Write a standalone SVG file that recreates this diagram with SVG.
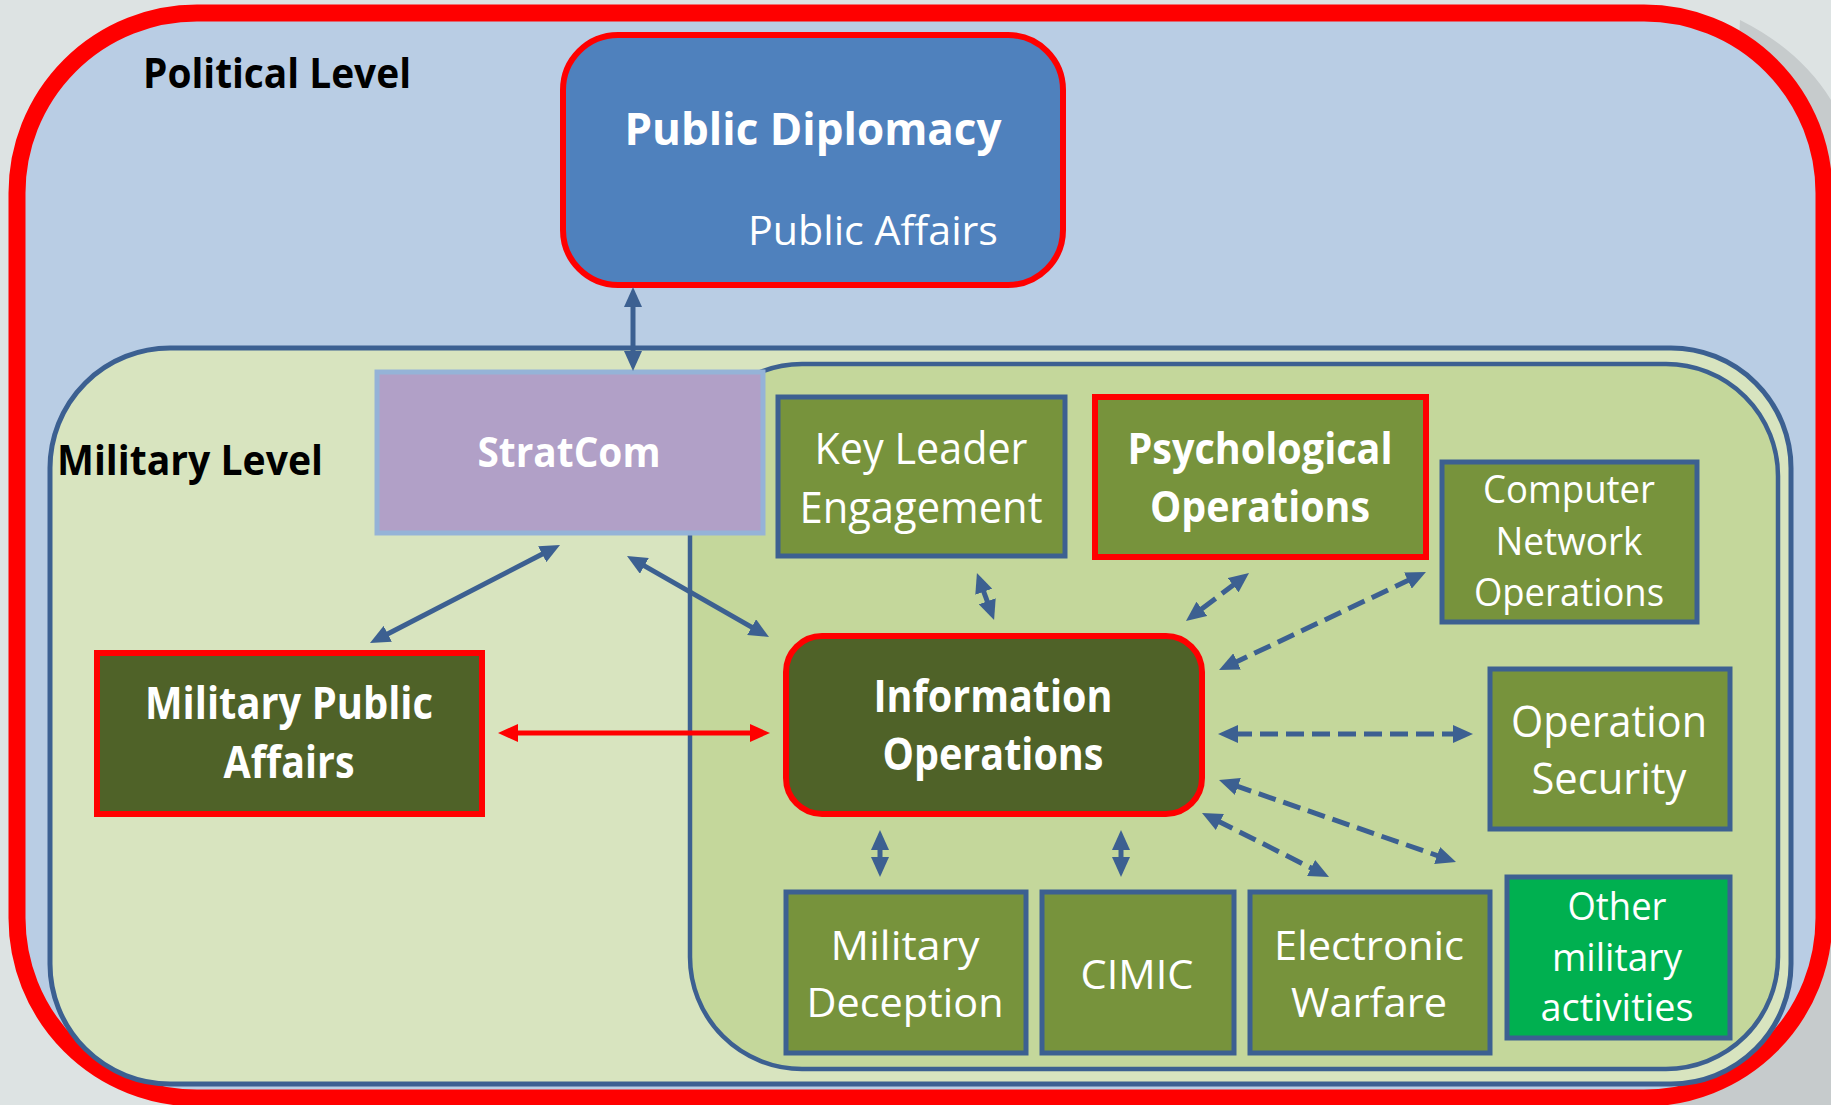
<svg xmlns="http://www.w3.org/2000/svg" width="1831" height="1105" viewBox="0 0 1831 1105">
<defs>
<style>
text{font-family:"Open Sans","Liberation Sans",sans-serif;fill:#fff;text-anchor:middle}
.lbl{fill:#000;font-weight:bold;text-anchor:start}
.b{font-weight:bold}
.box{fill:#77933c;stroke:#3c6091;stroke-width:5}
.redbox{stroke:#ff0000;stroke-width:6}
.conn{stroke:#3c6091;stroke-width:5;fill:none}
.dash{stroke-dasharray:18 8}
</style>
<marker id="ab" viewBox="0 0 20 18" markerWidth="20" markerHeight="18" refX="4" refY="9" orient="auto-start-reverse" markerUnits="userSpaceOnUse">
<path d="M0,0 L20,9 L0,18 z" fill="#3c6091"/>
</marker>
<marker id="ar" viewBox="0 0 20 18" markerWidth="20" markerHeight="18" refX="4" refY="9" orient="auto-start-reverse" markerUnits="userSpaceOnUse">
<path d="M0,0 L20,9 L0,18 z" fill="#ff0000"/>
</marker>
</defs>
<rect x="0" y="0" width="1831" height="1105" fill="#dde3e3"/>
<path d="M1740,20 Q1800,50 1831,100 L1831,1105 L1600,1105 L1700,900 Z" fill="#c6cbcc"/>

<g id="political-level">
<rect x="17" y="13" width="1807" height="1085" rx="180" ry="180" fill="#b9cde4" stroke="#ff0000" stroke-width="17"/>
<text class="lbl" x="143" y="88" font-size="41" textLength="268" lengthAdjust="spacingAndGlyphs">Political Level</text>
</g>

<g id="military-level">
<rect x="50" y="348" width="1741" height="736" rx="120" ry="120" fill="#d8e4bf" stroke="#3c6091" stroke-width="5"/>
<text class="lbl" x="57" y="475" font-size="42" textLength="266" lengthAdjust="spacingAndGlyphs">Military Level</text>
</g>

<g id="io-area">
<rect x="690" y="364" width="1088" height="705" rx="112" ry="112" fill="#c4d79b" stroke="#3c6091" stroke-width="4.5"/>
</g>

<g id="public-diplomacy">
<rect x="563" y="35" width="500" height="250" rx="55" ry="55" fill="#4f81bd" stroke="#ff0000" stroke-width="6"/>
<text class="b" x="813" y="145" font-size="44" textLength="377" lengthAdjust="spacingAndGlyphs">Public Diplomacy</text>
<text x="873" y="245" font-size="41" textLength="250" lengthAdjust="spacingAndGlyphs">Public Affairs</text>
</g>

<g id="stratcom">
<rect x="377" y="372" width="386" height="161" fill="#b1a0c7" stroke="#95b3d7" stroke-width="5"/>
<text class="b" x="569" y="467" font-size="41" textLength="183" lengthAdjust="spacingAndGlyphs">StratCom</text>
</g>

<g id="key-leader-engagement">
<rect class="box" x="778" y="397" width="287" height="159"/>
<text x="921" y="464" font-size="43" textLength="213" lengthAdjust="spacingAndGlyphs">Key Leader</text>
<text x="921" y="523" font-size="43" textLength="243" lengthAdjust="spacingAndGlyphs">Engagement</text>
</g>

<g id="psychological-operations">
<rect class="box redbox" x="1095" y="397" width="331" height="160"/>
<text class="b" x="1260" y="464" font-size="43" textLength="265" lengthAdjust="spacingAndGlyphs">Psychological</text>
<text class="b" x="1260" y="522" font-size="43" textLength="220" lengthAdjust="spacingAndGlyphs">Operations</text>
</g>

<g id="computer-network-operations">
<rect class="box" x="1442" y="462" width="255" height="160"/>
<text x="1569" y="503" font-size="38" textLength="172" lengthAdjust="spacingAndGlyphs">Computer</text>
<text x="1569" y="555" font-size="38" textLength="147" lengthAdjust="spacingAndGlyphs">Network</text>
<text x="1569" y="606" font-size="38" textLength="190" lengthAdjust="spacingAndGlyphs">Operations</text>
</g>

<g id="information-operations">
<rect x="786" y="636" width="416" height="178" rx="36" ry="36" fill="#4f6228" stroke="#ff0000" stroke-width="6"/>
<text class="b" x="993" y="712" font-size="44" textLength="239" lengthAdjust="spacingAndGlyphs">Information</text>
<text class="b" x="993" y="770" font-size="44" textLength="221" lengthAdjust="spacingAndGlyphs">Operations</text>
</g>

<g id="military-public-affairs">
<rect x="97" y="653" width="385" height="161" fill="#4f6228" stroke="#ff0000" stroke-width="6"/>
<text class="b" x="289" y="719" font-size="44" textLength="288" lengthAdjust="spacingAndGlyphs">Military Public</text>
<text class="b" x="289" y="778" font-size="44" textLength="131" lengthAdjust="spacingAndGlyphs">Affairs</text>
</g>

<g id="operation-security">
<rect class="box" x="1490" y="669" width="240" height="160"/>
<text x="1609" y="737" font-size="43" textLength="196" lengthAdjust="spacingAndGlyphs">Operation</text>
<text x="1609" y="794" font-size="43" textLength="155" lengthAdjust="spacingAndGlyphs">Security</text>
</g>

<g id="other-military-activities">
<rect x="1507" y="877" width="223" height="161" fill="#00b050" stroke="#3c6091" stroke-width="5"/>
<text x="1617" y="920" font-size="38" textLength="99" lengthAdjust="spacingAndGlyphs">Other</text>
<text x="1617" y="971" font-size="38" textLength="130" lengthAdjust="spacingAndGlyphs">military</text>
<text x="1617" y="1021" font-size="38" textLength="153" lengthAdjust="spacingAndGlyphs">activities</text>
</g>

<g id="electronic-warfare">
<rect class="box" x="1250" y="892" width="240" height="161"/>
<text x="1369" y="960" font-size="41" textLength="190" lengthAdjust="spacingAndGlyphs">Electronic</text>
<text x="1369" y="1017" font-size="41" textLength="156" lengthAdjust="spacingAndGlyphs">Warfare</text>
</g>

<g id="cimic">
<rect class="box" x="1042" y="892" width="192" height="161"/>
<text x="1137" y="989" font-size="41" textLength="113" lengthAdjust="spacingAndGlyphs">CIMIC</text>
</g>

<g id="military-deception">
<rect class="box" x="786" y="892" width="240" height="161"/>
<text x="905" y="960" font-size="41" textLength="149" lengthAdjust="spacingAndGlyphs">Military</text>
<text x="905" y="1017" font-size="41" textLength="197" lengthAdjust="spacingAndGlyphs">Deception</text>
</g>

<g id="connectors">
<line class="conn" x1="633" y1="303" x2="633" y2="355" marker-start="url(#ab)" marker-end="url(#ab)"/>
<line class="conn" x1="545.8" y1="552.3" x2="384.2" y2="635.7" marker-start="url(#ab)" marker-end="url(#ab)"/>
<line class="conn" x1="640.9" y1="563.9" x2="755.1" y2="629.1" marker-start="url(#ab)" marker-end="url(#ab)"/>
<line x1="514" y1="733" x2="754" y2="733" stroke="#ff0000" stroke-width="5" marker-start="url(#ar)" marker-end="url(#ar)"/>
<line class="conn" x1="982.4" y1="588" x2="988.6" y2="605" marker-start="url(#ab)" marker-end="url(#ab)"/>
<line class="conn dash" x1="1236.3" y1="582.7" x2="1198.7" y2="611.3" marker-start="url(#ab)" marker-end="url(#ab)"/>
<line class="conn dash" x1="1411.5" y1="578.8" x2="1233.5" y2="663.2" marker-start="url(#ab)" marker-end="url(#ab)"/>
<line class="conn dash" x1="1234" y1="734" x2="1457" y2="734" marker-start="url(#ab)" marker-end="url(#ab)"/>
<line class="conn dash" x1="1234.1" y1="785.2" x2="1440.9" y2="856.8" marker-start="url(#ab)" marker-end="url(#ab)"/>
<line class="conn dash" x1="1216.3" y1="820.2" x2="1314.7" y2="869.8" marker-start="url(#ab)" marker-end="url(#ab)"/>
<line class="conn" x1="1121" y1="846" x2="1121" y2="861" marker-start="url(#ab)" marker-end="url(#ab)"/>
<line class="conn" x1="880" y1="846" x2="880" y2="861" marker-start="url(#ab)" marker-end="url(#ab)"/>
</g>
</svg>
